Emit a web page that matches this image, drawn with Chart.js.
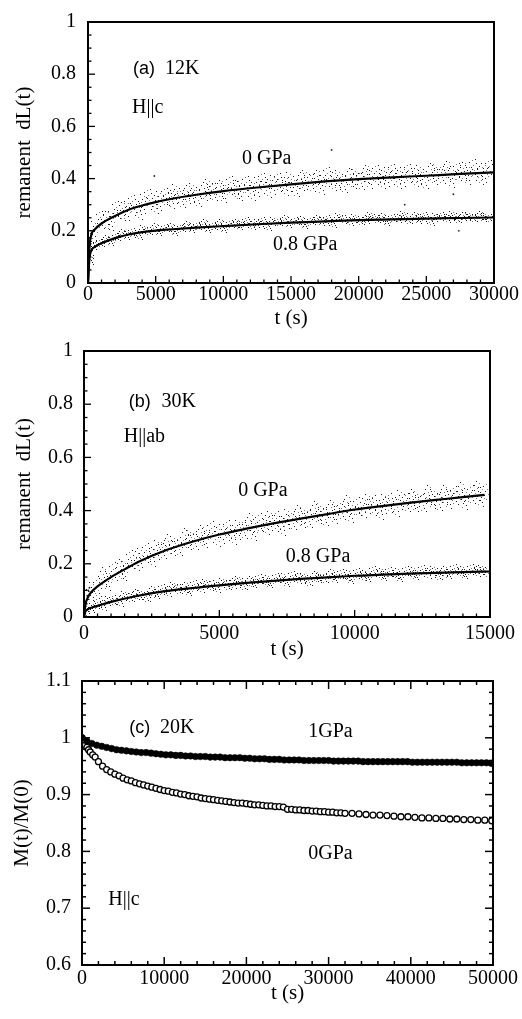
<!DOCTYPE html>
<html lang="en">
<head>
<meta charset="UTF-8">
<title>Remanent dL(t) and M(t)/M(0) relaxation</title>
<script src="https://cdn.jsdelivr.net/npm/chart.js"></script>
<style>
  html, body { margin: 0; padding: 0; background: #fff; }
  #page { position: relative; width: 522px; height: 1019px; }
  #page canvas { position: absolute; left: 0; }
</style>
</head>
<body>
<div id="page">
  <canvas id="panelA" width="522" height="330" style="top:0"></canvas>
  <canvas id="panelB" width="522" height="330" style="top:330px"></canvas>
  <canvas id="panelC" width="522" height="359" style="top:660px"></canvas>
</div>
<script>
// ---- panel (a) 12K, H||c ----
const timeFitA = [0, 100, 250, 500, 1000, 2000, 3000, 4000, 5000, 6000, 8000, 10000, 12500, 15000, 17500, 20000, 22500, 25000, 27500, 30000];
const fit0GPaA = [0, 0.13, 0.185, 0.205, 0.228, 0.257, 0.281, 0.297, 0.31, 0.321, 0.338, 0.352, 0.366, 0.378, 0.389, 0.398, 0.405, 0.411, 0.418, 0.424];
const fit08GPaA = [0, 0.09, 0.125, 0.138, 0.152, 0.172, 0.186, 0.195, 0.201, 0.205, 0.212, 0.218, 0.225, 0.231, 0.236, 0.241, 0.244, 0.247, 0.249, 0.251];

const timeDotsA = [100, 500, 900, 1300, 1700, 2100, 2500, 2900, 3300, 3700, 4100, 4500, 4900, 5300, 5700,
  6100, 6500, 6900, 7300, 7700, 8100, 8500, 8900, 9300, 9700, 10100, 10500, 10900, 11300, 11700,
  12100, 12500, 12900, 13300, 13700, 14100, 14500, 14900, 15300, 15700, 16100, 16500, 16900, 17300, 17700,
  18100, 18500, 18900, 19300, 19700, 20100, 20500, 20900, 21300, 21700, 22100, 22500, 22900, 23300, 23700,
  24100, 24500, 24900, 25300, 25700, 26100, 26500, 26900, 27300, 27700, 28100, 28500, 28900, 29300, 29700];
const dots0GPaA = [0.138, 0.200, 0.238, 0.238, 0.238, 0.276, 0.275, 0.277, 0.299, 0.279, 0.305, 0.324, 0.301, 0.315, 0.329,
  0.319, 0.343, 0.319, 0.338, 0.346, 0.324, 0.349, 0.361, 0.348, 0.360, 0.346, 0.375, 0.360, 0.355, 0.374,
  0.352, 0.371, 0.386, 0.363, 0.376, 0.386, 0.371, 0.387, 0.363, 0.388, 0.398, 0.383, 0.396, 0.377, 0.409,
  0.388, 0.398, 0.379, 0.404, 0.399, 0.389, 0.417, 0.400, 0.414, 0.396, 0.409, 0.420, 0.396, 0.408, 0.421,
  0.404, 0.417, 0.394, 0.422, 0.416, 0.412, 0.431, 0.404, 0.423, 0.427, 0.415, 0.438, 0.412, 0.423, 0.434];
const dots08GPaA = [0.086, 0.144, 0.150, 0.167, 0.159, 0.176, 0.190, 0.183, 0.194, 0.183, 0.204, 0.198, 0.212, 0.197, 0.208,
  0.212, 0.197, 0.210, 0.219, 0.208, 0.218, 0.227, 0.209, 0.217, 0.227, 0.210, 0.223, 0.227, 0.219, 0.234,
  0.219, 0.228, 0.234, 0.216, 0.234, 0.230, 0.242, 0.227, 0.236, 0.241, 0.226, 0.236, 0.245, 0.235, 0.242,
  0.228, 0.251, 0.242, 0.237, 0.248, 0.235, 0.245, 0.253, 0.242, 0.250, 0.235, 0.249, 0.246, 0.257, 0.241,
  0.255, 0.244, 0.253, 0.237, 0.250, 0.256, 0.247, 0.259, 0.243, 0.253, 0.256, 0.247, 0.260, 0.251, 0.246];
const timeStrayA = [40, 70, 120, 160, 220, 4900, 18000, 23400, 27000, 27400];
const strayA = [0.05, 0.09, 0.15, 0.17, 0.19, 0.41, 0.51, 0.30, 0.34, 0.20];

// ---- panel (b) 30K, H||ab ----
const timeFit0B = [0, 50, 150, 300, 500, 1000, 1500, 2000, 3000, 4000, 5000, 6000, 7000, 8000, 9000, 10000, 11000, 12000, 13000, 14000, 14800];
const fit0GPaB = [0, 0.045, 0.075, 0.097, 0.115, 0.15, 0.179, 0.207, 0.25, 0.283, 0.31, 0.332, 0.352, 0.37, 0.387, 0.404, 0.417, 0.429, 0.44, 0.451, 0.459];
const timeFit08B = [0, 50, 150, 300, 500, 1000, 2000, 3000, 4000, 5000, 6000, 7000, 8000, 9000, 10000, 11000, 12000, 13000, 14000, 15000];
const fit08GPaB = [0, 0.02, 0.03, 0.036, 0.042, 0.057, 0.08, 0.097, 0.109, 0.119, 0.128, 0.136, 0.143, 0.149, 0.155, 0.159, 0.163, 0.166, 0.169, 0.171];

const timeDotsB = [100, 300, 500, 700, 900, 1100, 1300, 1500, 1700, 1900, 2100, 2300, 2500, 2700, 2900,
  3100, 3300, 3500, 3700, 3900, 4100, 4300, 4500, 4700, 4900, 5100, 5300, 5500, 5700, 5900,
  6100, 6300, 6500, 6700, 6900, 7100, 7300, 7500, 7700, 7900, 8100, 8300, 8500, 8700, 8900,
  9100, 9300, 9500, 9700, 9900, 10100, 10300, 10500, 10700, 10900, 11100, 11300, 11500, 11700, 11900,
  12100, 12300, 12500, 12700, 12900, 13100, 13300, 13500, 13700, 13900, 14100, 14300, 14500, 14700, 14900];
const dots0GPaB = [0.066, 0.096, 0.106, 0.147, 0.139, 0.166, 0.177, 0.173, 0.213, 0.207, 0.223, 0.240, 0.223, 0.254, 0.249,
  0.274, 0.268, 0.263, 0.294, 0.290, 0.283, 0.307, 0.298, 0.321, 0.299, 0.314, 0.324, 0.305, 0.329, 0.325,
  0.351, 0.325, 0.350, 0.343, 0.363, 0.359, 0.340, 0.369, 0.359, 0.380, 0.375, 0.368, 0.397, 0.388, 0.375,
  0.402, 0.388, 0.398, 0.418, 0.394, 0.413, 0.407, 0.425, 0.419, 0.400, 0.428, 0.426, 0.412, 0.442, 0.425,
  0.442, 0.435, 0.428, 0.457, 0.447, 0.429, 0.457, 0.444, 0.454, 0.468, 0.443, 0.457, 0.471, 0.454, 0.468];
const dots08GPaB = [0.020, 0.037, 0.052, 0.045, 0.061, 0.063, 0.058, 0.079, 0.072, 0.086, 0.085, 0.075, 0.094, 0.090, 0.104,
  0.094, 0.113, 0.105, 0.110, 0.100, 0.117, 0.112, 0.125, 0.120, 0.112, 0.128, 0.119, 0.126, 0.138, 0.118,
  0.135, 0.129, 0.142, 0.136, 0.128, 0.146, 0.143, 0.135, 0.153, 0.143, 0.150, 0.134, 0.154, 0.150, 0.143,
  0.161, 0.149, 0.159, 0.157, 0.146, 0.165, 0.157, 0.151, 0.171, 0.165, 0.156, 0.169, 0.163, 0.152, 0.170,
  0.167, 0.159, 0.176, 0.165, 0.174, 0.157, 0.172, 0.165, 0.179, 0.172, 0.162, 0.179, 0.171, 0.177, 0.167];
const timeStrayB = [30, 50, 80, 120, 160, 200];
const strayB = [0.02, 0.04, 0.06, 0.08, 0.10, 0.11];

// ---- panel (c) 20K, H||c, M(t)/M(0) ----
const time1GPaC = [0, 600, 1200, 1800, 2400, 3000, 3600, 4200, 4800, 5400,
  6000, 6600, 7200, 7800, 8400, 9000, 9600, 10200, 10800, 11400,
  12000, 12600, 13200, 13800, 14400, 15000, 15600, 16200, 16800, 17400,
  18000, 18600, 19200, 19800, 20400, 21000, 21600, 22200, 22800, 23400,
  24000, 24600, 25200, 25800, 26400, 27000, 27600, 28200, 28800, 29400,
  30000, 30600, 31200, 31800, 32400, 33000, 33600, 34200, 34800, 35400,
  36000, 36600, 37200, 37800, 38400, 39000, 39600, 40200, 40800, 41400,
  42000, 42600, 43200, 43800, 44400, 45000, 45600, 46200, 46800, 47400,
  48000, 48600, 49200, 49800];
const m1GPaC = [1.000, 0.994, 0.990, 0.987, 0.985, 0.983, 0.981, 0.979, 0.978, 0.977,
  0.976, 0.975, 0.974, 0.974, 0.973, 0.972, 0.971, 0.970, 0.970, 0.969,
  0.969, 0.968, 0.968, 0.967, 0.967, 0.967, 0.966, 0.966, 0.966, 0.965,
  0.965, 0.965, 0.965, 0.964, 0.964, 0.963, 0.963, 0.963, 0.962, 0.962,
  0.962, 0.961, 0.961, 0.961, 0.961, 0.960, 0.960, 0.960, 0.960, 0.960,
  0.960, 0.959, 0.959, 0.959, 0.959, 0.959, 0.959, 0.958, 0.958, 0.958,
  0.958, 0.958, 0.958, 0.958, 0.958, 0.958, 0.958, 0.957, 0.957, 0.957,
  0.957, 0.957, 0.957, 0.957, 0.957, 0.957, 0.957, 0.956, 0.956, 0.956,
  0.956, 0.956, 0.956, 0.955];
const time0GPaC = [0, 100, 250, 400, 600, 800, 1000, 1300, 1600, 2000, 2500,
  3000, 3500, 4000, 4500, 5000, 5500, 6000, 6500, 7000, 7500, 8000, 8500, 9000, 9500,
  10000, 10500, 11000, 11500, 12000, 12500, 13000, 13500, 14000, 14500, 15000, 15500, 16000, 16500,
  17000, 17500, 18000, 18500, 19000, 19500, 20000, 20500, 21000, 21500, 22000, 22500, 23000, 23500,
  24000, 24500, 25000, 25500, 26000, 26500, 27000, 27500, 28000, 28500, 29000, 29500, 30000, 30500,
  31000, 31500, 32000,
  32850, 33700, 34550, 35400, 36250, 37100, 37950, 38800, 39650, 40500, 41350, 42200, 43050, 43900,
  44750, 45600, 46450, 47300, 48150, 49000, 49850];
const m0GPaC = [1.000, 0.996, 0.991, 0.987, 0.983, 0.979, 0.975, 0.970, 0.966, 0.958, 0.950,
  0.944, 0.940, 0.936, 0.933, 0.929, 0.926, 0.924, 0.921, 0.919, 0.917, 0.915, 0.913, 0.911, 0.909,
  0.907, 0.906, 0.904, 0.903, 0.901, 0.900, 0.898, 0.897, 0.896, 0.894, 0.893, 0.892, 0.891, 0.890,
  0.889, 0.888, 0.887, 0.886, 0.885, 0.885, 0.884, 0.883, 0.882, 0.882, 0.881, 0.880, 0.880, 0.879,
  0.879, 0.878, 0.874, 0.874, 0.873, 0.873, 0.872, 0.872, 0.871, 0.871, 0.870, 0.870, 0.869, 0.869,
  0.868, 0.868, 0.867,
  0.867, 0.866, 0.865, 0.864, 0.864, 0.863, 0.862, 0.861, 0.861, 0.860, 0.859, 0.859, 0.858, 0.858,
  0.857, 0.857, 0.856, 0.856, 0.855, 0.855, 0.854];

// ---- ticks ----
const yTicksAB = [0, 0.2, 0.4, 0.6, 0.8, 1];
const yTickLabelsAB = ['0', '0.2', '0.4', '0.6', '0.8', '1'];
const xTicksA = [0, 5000, 10000, 15000, 20000, 25000, 30000];
const xTickLabelsA = ['0', '5000', '10000', '15000', '20000', '25000', '30000'];
const xTicksB = [0, 5000, 10000, 15000];
const xTickLabelsB = ['0', '5000', '10000', '15000'];
const xTicksC = [0, 10000, 20000, 30000, 40000, 50000];
const xTickLabelsC = ['0', '10000', '20000', '30000', '40000', '50000'];
const yTicksC = [0.6, 0.7, 0.8, 0.9, 1, 1.1];
const yTickLabelsC = ['0.6', '0.7', '0.8', '0.9', '1', '1.1'];

Chart.defaults.font.family = '"Liberation Serif", "Times New Roman", serif';
Chart.defaults.color = '#000';

const SERIF = '"Liberation Serif", serif';
const SANS = '"Liberation Sans", Arial, sans-serif';
const tickFont = { family: SERIF, size: 20, lineHeight: 1 };
const titleFont = { family: SERIF, size: 21, lineHeight: 1 };

// little clusters of grey specks, used as the point marker for the noisy data
const speckles = [
  [[0, -10], [3, -8], [-2, -6], [4, -4], [1, -3], [-4, -1], [2, 0], [-1, 2], [3, 4], [-3, 5], [0, 7], [4, 9]],
  [[-3, -9], [1, -7], [4, -5], [-1, -4], [2, -2], [-4, 0], [0, 1], [3, 2], [-2, 4], [1, 6], [-3, 8], [2, 10]],
  [[2, -10], [-1, -8], [-4, -6], [3, -5], [0, -3], [-2, -1], [4, 0], [1, 2], [-3, 3], [2, 5], [-1, 7], [4, 8]]
];
function speckleSet(spread) {
  return speckles.map(dots => {
    const c = document.createElement('canvas');
    c.width = 9; c.height = 21;
    const g = c.getContext('2d');
    dots.forEach(([dx, dy], k) => {
      g.fillStyle = k % 3 === 1 ? '#7a7a7a' : '#1e1e1e';
      g.fillRect(4 + dx, 10 + Math.round(dy * spread), 1, 1);
    });
    return c;
  });
}

function pts(xs, ys) { return xs.map((x, i) => ({ x: x, y: ys[i] })); }

function fitLine(xs, ys) {
  return { data: pts(xs, ys), showLine: true, borderColor: '#000', borderWidth: 2.2,
    pointRadius: 0, cubicInterpolationMode: 'monotone', fill: false };
}
function speckled(xs, ys, spread) {
  const sprites = speckleSet(spread);
  return { data: pts(xs, ys), showLine: false, pointRadius: 2,
    pointStyle: c => sprites[c.dataIndex % 3] };
}
function stray(xs, ys) {
  return { data: pts(xs, ys), showLine: false, pointRadius: 0.9, pointStyle: 'circle',
    backgroundColor: '#222', borderWidth: 0 };
}

// frame, inward ticks and the text written inside the plot
const framePlugin = {
  id: 'frame',
  beforeDatasetsDraw(chart) { chart.ctx.imageSmoothingEnabled = false; },
  afterDatasetsDraw(chart, args, o) {
    const { ctx, chartArea: a, scales: { x, y } } = chart;
    ctx.imageSmoothingEnabled = true;
    ctx.save();
    ctx.strokeStyle = '#000';
    ctx.lineWidth = o.tickWidth;
    const seg = (x1, y1, x2, y2) => { ctx.beginPath(); ctx.moveTo(x1, y1); ctx.lineTo(x2, y2); ctx.stroke(); };

    const nx = Math.round((x.max - x.min) / o.xMinor);
    const xEvery = Math.round(o.xMajor / o.xMinor);
    for (let i = 0; i <= nx; i++) {
      const px = x.getPixelForValue(x.min + i * o.xMinor);
      const len = i % xEvery === 0 ? o.majorLen : o.minorLen;
      seg(px, a.bottom, px, a.bottom - len);
      if (o.mirror) seg(px, a.top, px, a.top + len);
    }
    const ny = Math.round((y.max - y.min) / o.yMinor);
    const yEvery = Math.round(o.yMajor / o.yMinor);
    for (let i = 0; i <= ny; i++) {
      const py = y.getPixelForValue(y.min + i * o.yMinor);
      const len = i % yEvery === 0 ? o.majorLen : o.minorLen;
      seg(a.left, py, a.left + len, py);
      if (o.mirror) seg(a.right, py, a.right - len, py);
    }
    ctx.lineWidth = 2;
    ctx.strokeRect(a.left, a.top, a.right - a.left, a.bottom - a.top);

    ctx.fillStyle = '#000';
    ctx.textAlign = 'left';
    ctx.textBaseline = 'alphabetic';
    o.notes.forEach(n => {
      ctx.font = n.font;
      ctx.fillText(n.text, x.getPixelForValue(n.x), y.getPixelForValue(n.y));
    });
    ctx.restore();
  }
};

function panel(id, p) {
  return new Chart(document.getElementById(id), {
    type: 'scatter',
    data: { datasets: p.datasets },
    options: {
      responsive: false,
      animation: false,
      layout: { padding: p.padding },
      plugins: {
        legend: { display: false },
        tooltip: { enabled: false },
        frame: p.frame
      },
      scales: {
        x: {
          type: 'linear', min: p.xMin, max: p.xMax,
          afterFit: s => { s.height = p.xHeight; },
          afterBuildTicks: s => { s.ticks = p.xTicks.map(v => ({ value: v })); },
          grid: { display: false, drawTicks: false },
          border: { display: false },
          ticks: { padding: p.xPad, font: tickFont, color: '#000', maxRotation: 0, autoSkip: false,
            callback: (v, i) => p.xLabels[i] },
          title: { display: true, text: 't (s)', font: titleFont, color: '#000',
            padding: { top: 0, bottom: p.xTitlePad } }
        },
        y: {
          type: 'linear', min: p.yMin, max: p.yMax,
          afterFit: s => { s.width = p.yWidth; },
          afterBuildTicks: s => { s.ticks = p.yTicks.map(v => ({ value: v })); },
          grid: { display: false, drawTicks: false },
          border: { display: false },
          ticks: { padding: p.yPad, font: tickFont, color: '#000', autoSkip: false,
            callback: (v, i) => p.yLabels[i] },
          title: { display: true, text: p.yTitle, font: titleFont, color: '#000',
            padding: { top: p.yTitlePad, bottom: 0 } }
        }
      }
    },
    plugins: [framePlugin]
  });
}

panel('panelA', {
  datasets: [
    fitLine(timeFitA, fit0GPaA),
    fitLine(timeFitA, fit08GPaA),
    speckled(timeDotsA, dots0GPaA, 0.95),
    speckled(timeDotsA, dots08GPaA, 0.4),
    stray(timeStrayA, strayA)
  ],
  padding: { top: 15, right: 28, bottom: 0, left: 0 },
  xMin: 0, xMax: 30000, yMin: 0, yMax: 1,
  xTicks: xTicksA, xLabels: xTickLabelsA, yTicks: yTicksAB, yLabels: yTickLabelsAB,
  xHeight: 47, yWidth: 88, xPad: 2, yPad: 12, xTitlePad: 1.5, yTitlePad: 13.5,
  yTitle: 'remanent  dL(t)',
  frame: {
    xMinor: 1000, xMajor: 5000, yMinor: 0.05, yMajor: 0.2, majorLen: 7, minorLen: 3.5,
    tickWidth: 1.3, mirror: false,
    notes: [
      { text: '(a)', x: 3325, y: 0.802, font: '18px ' + SANS },
      { text: '12K', x: 5690, y: 0.802, font: '20px ' + SERIF },
      { text: 'H||c', x: 3250, y: 0.653, font: '20px ' + SERIF },
      { text: '0 GPa', x: 11380, y: 0.455, font: '20px ' + SERIF },
      { text: '0.8 GPa', x: 13670, y: 0.127, font: '20px ' + SERIF }
    ]
  }
});

panel('panelB', {
  datasets: [
    fitLine(timeFit0B, fit0GPaB),
    fitLine(timeFit08B, fit08GPaB),
    speckled(timeDotsB, dots0GPaB, 1.0),
    speckled(timeDotsB, dots08GPaB, 0.5),
    stray(timeStrayB, strayB)
  ],
  padding: { top: 15, right: 29, bottom: 0, left: 0 },
  xMin: 0, xMax: 15000, yMin: 0, yMax: 1,
  xTicks: xTicksB, xLabels: xTickLabelsB, yTicks: yTicksAB, yLabels: yTickLabelsAB,
  xHeight: 43, yWidth: 84, xPad: 7, yPad: 11, xTitlePad: 0, yTitlePad: 13.5,
  yTitle: 'remanent  dL(t)',
  frame: {
    xMinor: 500, xMajor: 5000, yMinor: 0.05, yMajor: 0.2, majorLen: 7, minorLen: 3.5,
    tickWidth: 1.3, mirror: false,
    notes: [
      { text: '(b)', x: 1650, y: 0.788, font: '18px ' + SANS },
      { text: '30K', x: 2860, y: 0.788, font: '20px ' + SERIF },
      { text: 'H||ab', x: 1467, y: 0.657, font: '20px ' + SERIF },
      { text: '0 GPa', x: 5696, y: 0.455, font: '20px ' + SERIF },
      { text: '0.8 GPa', x: 7457, y: 0.206, font: '20px ' + SERIF }
    ]
  }
});

panel('panelC', {
  datasets: [
    { data: pts(time1GPaC, m1GPaC), showLine: false, pointRadius: 3.3, pointStyle: 'circle',
      backgroundColor: '#000', borderColor: '#000', borderWidth: 0.5 },
    { data: pts(time0GPaC, m0GPaC), showLine: false, pointRadius: 3, pointStyle: 'circle',
      backgroundColor: '#fff', borderColor: '#000', borderWidth: 1.3 }
  ],
  padding: { top: 15, right: 29, bottom: 0, left: 0 },
  xMin: 0, xMax: 50000, yMin: 0.6, yMax: 1.1,
  xTicks: xTicksC, xLabels: xTickLabelsC, yTicks: yTicksC, yLabels: yTickLabelsC,
  xHeight: 54, yWidth: 82, xPad: 4, yPad: 11, xTitlePad: 15.5, yTitlePad: 11.5,
  yTitle: 'M(t)/M(0)',
  frame: {
    xMinor: 2000, xMajor: 10000, yMinor: 0.02, yMajor: 0.1, majorLen: 8, minorLen: 4,
    tickWidth: 1.5, mirror: true,
    notes: [
      { text: '(c)', x: 5757, y: 1.008, font: '18px ' + SANS },
      { text: '20K', x: 9490, y: 1.008, font: '20px ' + SERIF },
      { text: '1GPa', x: 27530, y: 1.002, font: '20px ' + SERIF },
      { text: '0GPa', x: 27530, y: 0.787, font: '20px ' + SERIF },
      { text: 'H||c', x: 3200, y: 0.706, font: '20px ' + SERIF }
    ]
  }
});
</script>
</body>
</html>
